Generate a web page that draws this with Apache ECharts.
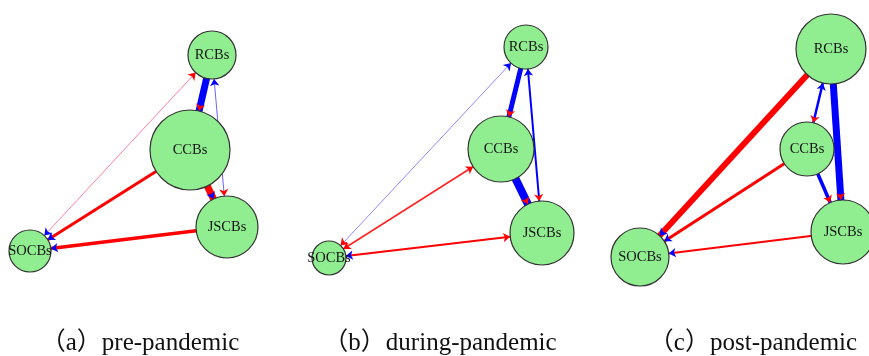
<!DOCTYPE html>
<html>
<head>
<meta charset="utf-8">
<script src="https://cdn.jsdelivr.net/npm/echarts@6/dist/echarts.min.js"></script>
<style>html,body{margin:0;padding:0;background:#fff}#c{width:869px;height:356px}</style>
</head>
<body>
<div id="c"></div>
<script>
// ---- data ----
const nodeNames = ['RCBs', 'CCBs', 'JSCBs', 'SOCBs'];
const panelTitles = ['（a）pre-pandemic', '（b）during-pandemic', '（c）post-pandemic'];

// node positions (layout coordinates, px units on a 869x356 canvas) and diameters
const posPre = [[212, 55], [190, 150], [227, 227], [30, 251]];
const sizePre = [48, 80, 62, 42];
const posDuring = [[526, 47], [501, 149], [542, 233], [329, 258]];
const sizeDuring = [44, 66, 64, 34];
const posPost = [[831, 49], [807, 149], [843, 232], [640, 257]];
const sizePost = [70, 54, 64, 58];

// main connection lines: [from, to, weight, colour]
const linesPre = [
  ['RCBs', 'SOCBs', 1, 'rgba(255,60,110,0.65)'],
  ['RCBs', 'JSCBs', 1, 'rgba(70,60,255,0.8)'],
  ['CCBs', 'SOCBs', 3, '#ff0000'],
  ['JSCBs', 'SOCBs', 3.5, '#ff0000'],
  ['CCBs', 'RCBs', 7, '#0000ff'],
  ['CCBs', 'JSCBs', 7, '#ff0000']
];
const linesDuring = [
  ['RCBs', 'SOCBs', 1, 'rgba(110,80,255,0.7)'],
  ['CCBs', 'SOCBs', 1.5, '#ff2020'],
  ['JSCBs', 'SOCBs', 2, '#ff0000'],
  ['RCBs', 'JSCBs', 2, '#0000ff'],
  ['RCBs', 'CCBs', 5, '#0000ff'],
  ['CCBs', 'JSCBs', 8, '#0000ff']
];
const linesPost = [
  ['JSCBs', 'SOCBs', 2, '#ff0000'],
  ['CCBs', 'SOCBs', 3, '#ff0000'],
  ['RCBs', 'SOCBs', 6, '#ff0000'],
  ['RCBs', 'CCBs', 2.5, '#0000ff'],
  ['CCBs', 'JSCBs', 3.5, '#0000ff'],
  ['RCBs', 'JSCBs', 7, '#0000ff']
];

// arrowheads: [from, to (arrow end), colour]
const arrowsPre = [
  ['RCBs', 'CCBs', '#ff0000'],
  ['JSCBs', 'RCBs', '#0000ff'],
  ['RCBs', 'JSCBs', '#ff0000'],
  ['CCBs', 'JSCBs', '#0000ff'],
  ['CCBs', 'SOCBs', '#0000ff'],
  ['SOCBs', 'RCBs', '#ff0000'],
  ['RCBs', 'SOCBs', '#0000ff'],
  ['JSCBs', 'SOCBs', '#0000ff']
];
const arrowsDuring = [
  ['RCBs', 'CCBs', '#ff0000'],
  ['JSCBs', 'RCBs', '#0000ff'],
  ['RCBs', 'JSCBs', '#ff0000'],
  ['CCBs', 'JSCBs', '#ff0000'],
  ['SOCBs', 'CCBs', '#ff0000'],
  ['CCBs', 'SOCBs', '#ff0000'],
  ['SOCBs', 'RCBs', '#0000ff'],
  ['RCBs', 'SOCBs', '#ff0000'],
  ['SOCBs', 'JSCBs', '#ff0000'],
  ['JSCBs', 'SOCBs', '#0000ff']
];
const arrowsPost = [
  ['RCBs', 'CCBs', '#ff0000'],
  ['CCBs', 'RCBs', '#0000ff'],
  ['RCBs', 'JSCBs', '#ff0000'],
  ['CCBs', 'JSCBs', '#ff0000'],
  ['RCBs', 'SOCBs', '#0000ff'],
  ['CCBs', 'SOCBs', '#0000ff'],
  ['JSCBs', 'SOCBs', '#0000ff']
];

const captionX = [140, 440, 753];

// ---- build ----
function buildSeries(pos, size, lines, arrows) {
  const nodes = nodeNames.map((n, i) => ({
    name: n,
    value: pos[i],
    symbolSize: size[i]
  }));
  const links = [];
  lines.forEach(l => links.push({
    source: l[0], target: l[1],
    symbol: ['none', 'none'],
    lineStyle: { width: l[2], color: l[3], opacity: 1, curveness: 0 }
  }));
  arrows.forEach(a => links.push({
    source: a[0], target: a[1],
    symbol: ['none', 'arrow'],
    symbolSize: [5, 7],
    lineStyle: { width: 0, color: a[2], opacity: 1, curveness: 0 }
  }));
  return {
    type: 'graph',
    coordinateSystem: 'cartesian2d',
    layout: 'none',
    silent: true,
    animation: false,
    symbol: 'circle',
    itemStyle: { color: '#90ee90', borderColor: '#333333', borderWidth: 1.2 },
    label: {
      show: true, position: 'inside',
      fontFamily: 'Liberation Serif', fontSize: 14.5, color: '#151515'
    },
    lineStyle: { opacity: 1 },
    emphasis: { disabled: true },
    data: nodes,
    links: links
  };
}

const chart = echarts.init(document.getElementById('c'), null, { renderer: 'canvas' });
chart.setOption({
  backgroundColor: '#ffffff',
  animation: false,
  grid: { left: 0, right: 0, top: 0, bottom: 0 },
  xAxis: { type: 'value', min: 0, max: 869, show: false },
  yAxis: { type: 'value', min: 0, max: 356, inverse: true, show: false },
  series: [
    buildSeries(posPre, sizePre, linesPre, arrowsPre),
    buildSeries(posDuring, sizeDuring, linesDuring, arrowsDuring),
    buildSeries(posPost, sizePost, linesPost, arrowsPost)
  ],
  graphic: panelTitles.map((t, i) => ({
    type: 'text',
    x: captionX[i], y: 356,
    style: {
      text: t,
      font: '25px "Liberation Serif", "Noto Sans CJK SC"',
      fill: '#111111',
      textAlign: 'center',
      textVerticalAlign: 'bottom'
    }
  }))
});
</script>
</body>
</html>
